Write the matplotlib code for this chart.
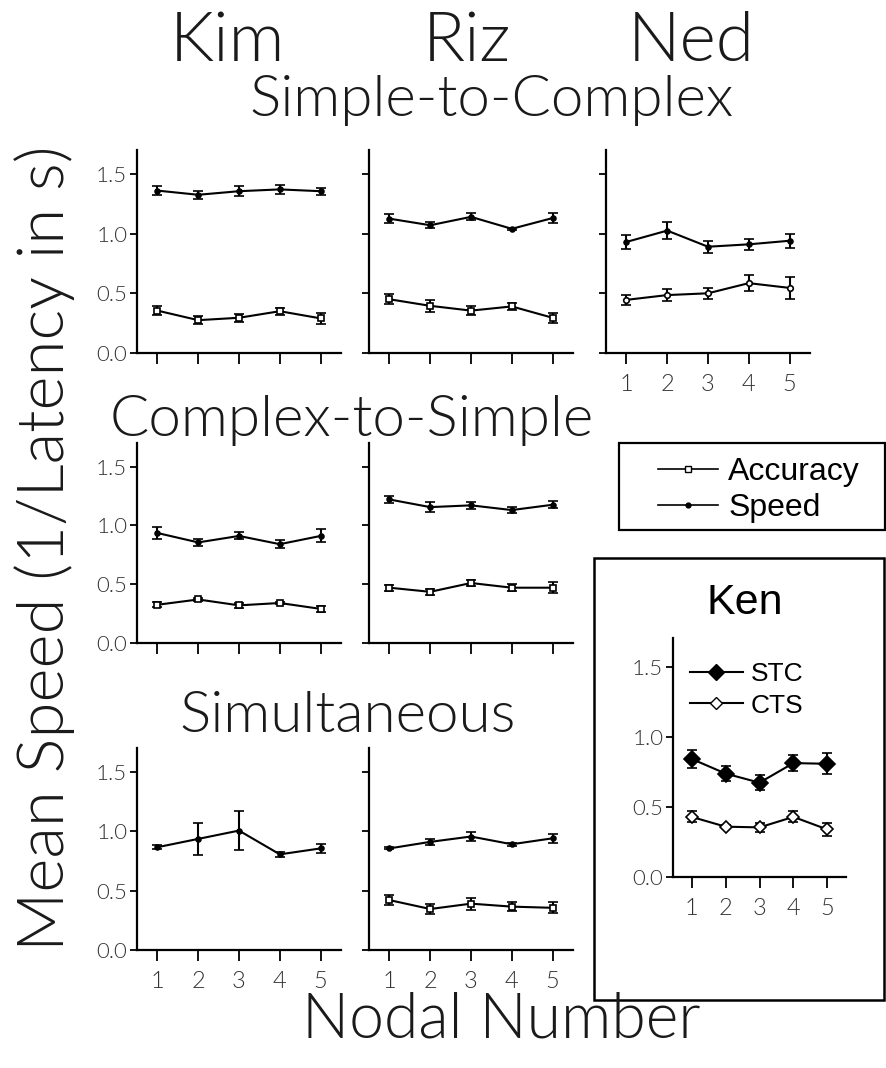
import matplotlib
matplotlib.use("Agg")
import matplotlib.pyplot as plt
from matplotlib.lines import Line2D
from matplotlib.patches import Rectangle

plt.rcParams['font.family'] = ['Lato', 'DejaVu Sans']

nodes = [1, 2, 3, 4, 5]

# Simple-to-Complex
kim_stc_speed = [1.36, 1.325, 1.355, 1.37, 1.355]
kim_stc_speed_err = [0.035, 0.035, 0.04, 0.04, 0.03]
kim_stc_acc = [0.355, 0.275, 0.295, 0.35, 0.29]
kim_stc_acc_err = [0.04, 0.035, 0.035, 0.03, 0.045]

riz_stc_speed = [1.125, 1.07, 1.14, 1.04, 1.13]
riz_stc_speed_err = [0.035, 0.025, 0.03, 0.01, 0.04]
riz_stc_acc = [0.45, 0.395, 0.355, 0.39, 0.295]
riz_stc_acc_err = [0.04, 0.05, 0.035, 0.03, 0.04]

ned_stc_speed = [0.93, 1.025, 0.89, 0.91, 0.94]
ned_stc_speed_err = [0.055, 0.07, 0.05, 0.045, 0.06]
ned_stc_acc = [0.445, 0.485, 0.5, 0.585, 0.545]
ned_stc_acc_err = [0.04, 0.05, 0.045, 0.065, 0.09]

# Complex-to-Simple
kim_cts_speed = [0.935, 0.855, 0.91, 0.84, 0.91]
kim_cts_speed_err = [0.055, 0.03, 0.03, 0.035, 0.055]
kim_cts_acc = [0.325, 0.37, 0.32, 0.34, 0.29]
kim_cts_acc_err = [0.02, 0.015, 0.02, 0.01, 0.025]

riz_cts_speed = [1.22, 1.155, 1.17, 1.13, 1.175]
riz_cts_speed_err = [0.03, 0.04, 0.03, 0.025, 0.03]
riz_cts_acc = [0.47, 0.435, 0.51, 0.47, 0.47]
riz_cts_acc_err = [0.025, 0.025, 0.025, 0.03, 0.045]

# Simultaneous
kim_sim_speed = [0.865, 0.935, 1.005, 0.805, 0.855]
kim_sim_speed_err = [0.015, 0.135, 0.165, 0.02, 0.035]

riz_sim_speed = [0.855, 0.91, 0.955, 0.89, 0.94]
riz_sim_speed_err = [0.008, 0.025, 0.035, 0.012, 0.04]
riz_sim_acc = [0.42, 0.345, 0.39, 0.365, 0.355]
riz_sim_acc_err = [0.045, 0.04, 0.05, 0.035, 0.045]

# Ken
ken_stc = [0.845, 0.74, 0.675, 0.815, 0.81]
ken_stc_err = [0.065, 0.055, 0.055, 0.055, 0.075]
ken_cts = [0.43, 0.36, 0.355, 0.43, 0.34]
ken_cts_err = [0.04, 0.01, 0.03, 0.04, 0.045]

W, H = 886, 1068
fig = plt.figure(figsize=(W / 100, H / 100), dpi=100)


def box(left, top, right, bottom):
    return [left / W, 1 - bottom / H, (right - left) / W, (bottom - top) / H]


tick_font = dict(family=['Lato', 'DejaVu Sans'], fontweight=300)
sans = ['Liberation Sans', 'DejaVu Sans']


def style(ax, ylabels, xlabels, ymax=1.70, xlim=(0.5, 5.5)):
    ax.set_xlim(*xlim)
    ax.set_ylim(0, ymax)
    for s in ['top', 'right']:
        ax.spines[s].set_visible(False)
    for s in ['left', 'bottom']:
        ax.spines[s].set_linewidth(1.6)
    ax.set_xticks(nodes)
    ax.set_yticks([0.0, 0.5, 1.0, 1.5])
    ax.tick_params(axis='y', direction='out', length=5, width=1.3, pad=2)
    ax.tick_params(axis='x', direction='out', length=8, width=1.3, pad=7)
    if ylabels:
        ax.set_yticklabels(['0.0', '0.5', '1.0', '1.5'], fontsize=16, color='#333333', **tick_font)
    else:
        ax.set_yticklabels([])
    if xlabels:
        ax.set_xticklabels([str(n) for n in nodes], fontsize=17, color='#333333', **tick_font)
    else:
        ax.set_xticklabels([])
    ax.patch.set_alpha(0)


def series(ax, y, err, marker, filled=True, ms=4):
    ax.errorbar(nodes, y, yerr=err, color='black', lw=1.5, elinewidth=1.5,
                capsize=3.5, capthick=1.5, marker=marker, ms=ms,
                mfc='black' if filled else 'white', mec='black', mew=1.2)


cols = [(137, 341), (369, 573), (606, 810)]
rows = [(150, 353), (443, 643), (748, 950)]

# row 1: Simple-to-Complex
ax = fig.add_axes(box(cols[0][0], rows[0][0], cols[0][1], rows[0][1]))
series(ax, kim_stc_speed, kim_stc_speed_err, 'o', ms=3.5)
series(ax, kim_stc_acc, kim_stc_acc_err, 's', filled=False)
style(ax, True, False)

ax = fig.add_axes(box(cols[1][0], rows[0][0], cols[1][1], rows[0][1]))
series(ax, riz_stc_speed, riz_stc_speed_err, 'o', ms=3.5)
series(ax, riz_stc_acc, riz_stc_acc_err, 's', filled=False)
style(ax, False, False)

ax = fig.add_axes(box(cols[2][0], rows[0][0], cols[2][1], rows[0][1]))
series(ax, ned_stc_speed, ned_stc_speed_err, 'o', ms=3.5)
series(ax, ned_stc_acc, ned_stc_acc_err, 'o', filled=False)
style(ax, False, True)

# row 2: Complex-to-Simple
ax = fig.add_axes(box(cols[0][0], rows[1][0], cols[0][1], rows[1][1]))
series(ax, kim_cts_speed, kim_cts_speed_err, 'o', ms=3.5)
series(ax, kim_cts_acc, kim_cts_acc_err, 's', filled=False)
style(ax, True, False)

ax = fig.add_axes(box(cols[1][0], rows[1][0], cols[1][1], rows[1][1]))
series(ax, riz_cts_speed, riz_cts_speed_err, 'o', ms=3.5)
series(ax, riz_cts_acc, riz_cts_acc_err, 's', filled=False)
style(ax, False, False)

# row 3: Simultaneous
ax = fig.add_axes(box(cols[0][0], rows[2][0], cols[0][1], rows[2][1]))
series(ax, kim_sim_speed, kim_sim_speed_err, 'o', ms=3.5)
style(ax, True, True)

ax = fig.add_axes(box(cols[1][0], rows[2][0], cols[1][1], rows[2][1]))
series(ax, riz_sim_speed, riz_sim_speed_err, 'o', ms=3.5)
series(ax, riz_sim_acc, riz_sim_acc_err, 's', filled=False)
style(ax, False, True)

# Ken panel
fig.patches.append(Rectangle((594 / W, 1 - 1000 / H), 290 / W, 442 / H,
                             transform=fig.transFigure, fill=False,
                             edgecolor='black', lw=1.8))
fig.text(745 / W, 1 - 603 / H, 'Ken', ha='center', va='center', fontsize=31, family=sans)
ax = fig.add_axes(box(673, 638, 846, 877))
series(ax, ken_stc, ken_stc_err, 'D', ms=8)
series(ax, ken_cts, ken_cts_err, 'D', filled=False, ms=6)
style(ax, True, True, ymax=1.71, xlim=(0.45, 5.55))
ken_handles = [Line2D([], [], color='black', lw=1.5, marker='D', ms=8, mfc='black', mec='black'),
               Line2D([], [], color='black', lw=1.5, marker='D', ms=6, mfc='white', mec='black')]
ax.legend(ken_handles, ['STC', 'CTS'], loc='upper left', bbox_to_anchor=(-0.04, 1.0),
          frameon=False, handlelength=2.0, handletextpad=0.3, labelspacing=0.3,
          prop=dict(family=sans, size=19))

# Accuracy / Speed legend
fig.patches.append(Rectangle((619 / W, 1 - 530 / H), 266 / W, 87 / H,
                             transform=fig.transFigure, fill=False,
                             edgecolor='black', lw=1.6))
leg_handles = [Line2D([], [], color='black', lw=1.2, marker='s', ms=4, mfc='white', mec='black'),
               Line2D([], [], color='black', lw=1.2, marker='o', ms=3.5, mfc='black', mec='black')]
fig.legend(leg_handles, ['Accuracy', 'Speed'], loc='center left',
           bbox_to_anchor=(645 / W, 1 - 490 / H), borderaxespad=0, frameon=False,
           handlelength=1.9, handletextpad=0.3, labelspacing=0.2,
           prop=dict(family=sans, size=23))

# headings
head = dict(ha='center', va='center', color='#1a1a1a', fontweight=300)
fig.text(227 / W, 1 - 42 / H, 'Kim', fontsize=50, **head)
fig.text(467 / W, 1 - 42 / H, 'Riz', fontsize=50, **head)
fig.text(691 / W, 1 - 42 / H, 'Ned', fontsize=50, **head)
fig.text(492 / W, 1 - 100 / H, 'Simple-to-Complex', fontsize=42, **head)
fig.text(352 / W, 1 - 420 / H, 'Complex-to-Simple', fontsize=42, **head)
fig.text(348 / W, 1 - 717 / H, 'Simultaneous', fontsize=42, **head)
fig.text(45 / W, 1 - 548 / H, 'Mean Speed (1/Latency in s)', rotation=90, fontsize=47, **head)
fig.text(501 / W, 1 - 1020 / H, 'Nodal Number', fontsize=45, **head)

fig.savefig('out.png', dpi=100)
